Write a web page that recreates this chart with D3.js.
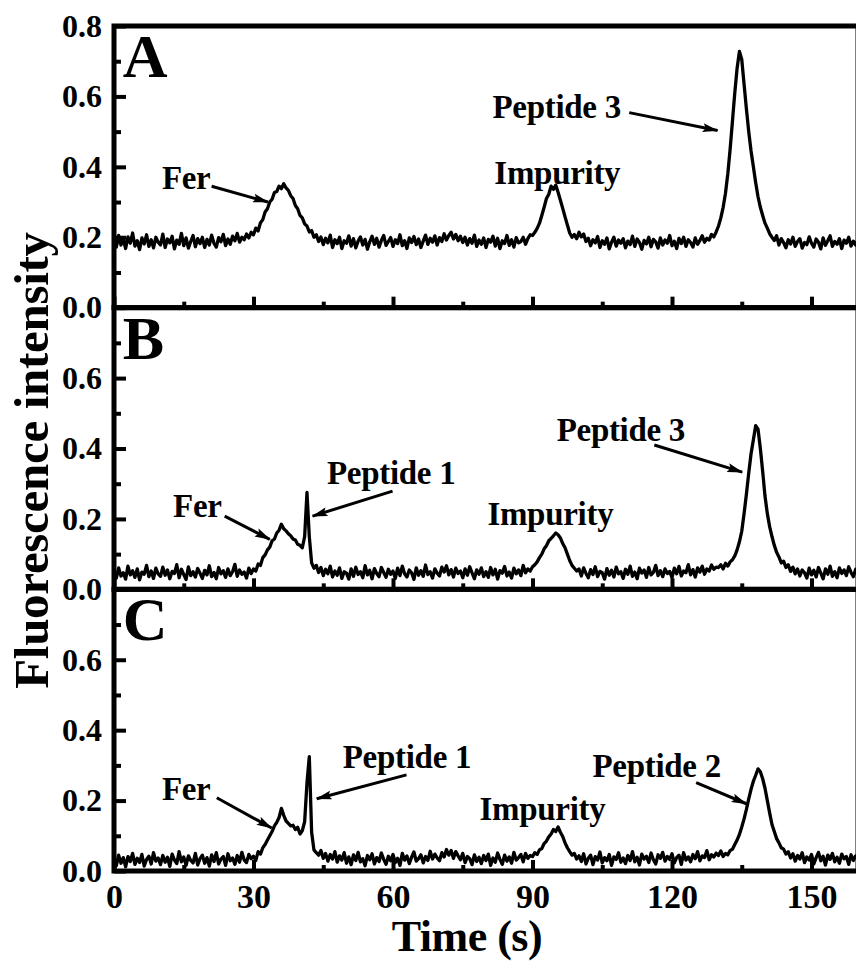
<!DOCTYPE html>
<html>
<head>
<meta charset="utf-8">
<script src="https://cdn.jsdelivr.net/npm/d3@7"></script>
<style>
  body { margin: 0; background: #fff; }
  text { font-family: "Liberation Serif", "Times New Roman", serif; font-weight: bold; fill: #000; }
</style>
</head>
<body>
<div id="chart"></div>
<script>
// Sampling interval of the traces (s)
const sampleStep = 0.5;

// Fluorescence traces, one value every 0.5 s from 0 to 160 s
const traceA = [
  .19,.172,.205,.178,.196,.168,.201,.183,.212,.175,.19,.165,.198,.181,.207,.174,.193,.17,.2,.186,
  .178,.209,.171,.195,.184,.203,.167,.192,.18,.211,.176,.198,.169,.188,.205,.173,.196,.182,.2,.171,
  .194,.178,.206,.183,.172,.199,.187,.208,.176,.195,.18,.203,.19,.211,.186,.2,.193,.209,.198,.214,
  .207,.226,.218,.241,.25,.272,.281,.3,.308,.327,.33,.345,.338,.352,.34,.333,.318,.31,.29,.281,
  .262,.255,.238,.232,.215,.219,.2,.207,.188,.201,.179,.197,.184,.206,.171,.193,.182,.2,.168,.19,
  .183,.204,.175,.196,.17,.189,.201,.178,.194,.166,.187,.203,.18,.197,.172,.191,.205,.177,.188,.199,
  .174,.193,.182,.207,.176,.19,.168,.198,.185,.202,.179,.195,.171,.189,.206,.18,.197,.186,.204,.178,
  .199,.188,.21,.192,.205,.214,.195,.208,.19,.203,.185,.2,.178,.196,.183,.206,.174,.192,.18,.198,
  .171,.194,.186,.203,.175,.197,.168,.19,.182,.205,.177,.193,.172,.199,.184,.188,.2,.18,.196,.207,
  .205,.214,.225,.24,.262,.285,.31,.322,.345,.336,.348,.328,.305,.282,.258,.235,.212,.2,.208,.196,
  .214,.201,.209,.188,.197,.176,.193,.184,.202,.171,.19,.18,.198,.167,.186,.2,.175,.192,.183,.196,
  .17,.189,.179,.203,.174,.195,.185,.166,.191,.181,.2,.173,.194,.187,.169,.198,.178,.192,.183,.205,
  .176,.189,.168,.197,.182,.2,.174,.193,.185,.172,.198,.18,.191,.204,.186,.197,.192,.208,.201,.215,
  .232,.255,.285,.325,.38,.45,.53,.61,.68,.728,.705,.635,.565,.5,.445,.4,.355,.315,.285,.262,
  .24,.226,.21,.2,.191,.204,.178,.196,.185,.17,.193,.181,.2,.174,.188,.196,.169,.185,.179,.201,
  .183,.172,.195,.186,.167,.198,.177,.19,.204,.174,.188,.18,.196,.168,.192,.183,.2,.175,.189,.178,
  .193
];
const traceB = [
  .05,.032,.061,.038,.047,.029,.066,.041,.053,.034,.058,.027,.049,.043,.068,.036,.052,.031,.06,.044,
  .037,.063,.04,.055,.03,.051,.045,.07,.033,.057,.042,.028,.064,.039,.05,.035,.059,.046,.031,.054,
  .041,.067,.036,.048,.03,.062,.044,.053,.034,.058,.039,.05,.071,.037,.055,.043,.049,.032,.06,.045,
  .058,.052,.072,.068,.09,.098,.112,.12,.138,.143,.16,.168,.185,.172,.166,.158,.152,.143,.14,.128,
  .125,.118,.15,.275,.15,.075,.06,.068,.048,.062,.039,.057,.044,.066,.035,.052,.04,.061,.031,.05,
  .046,.029,.058,.037,.063,.042,.05,.033,.067,.041,.054,.03,.059,.045,.036,.062,.048,.034,.057,.043,
  .052,.031,.06,.039,.066,.044,.035,.055,.047,.028,.061,.04,.053,.037,.069,.042,.05,.032,.058,.046,
  .038,.063,.049,.067,.041,.056,.035,.06,.045,.052,.033,.058,.04,.064,.047,.03,.055,.043,.061,.036,
  .05,.034,.062,.041,.057,.029,.053,.046,.065,.038,.049,.032,.06,.044,.055,.039,.068,.047,.058,.052,
  .064,.07,.078,.09,.1,.115,.124,.138,.145,.152,.16,.155,.146,.13,.118,.1,.082,.068,.06,.052,
  .058,.038,.061,.045,.033,.056,.042,.064,.036,.051,.047,.029,.059,.04,.054,.035,.063,.044,.05,.031,
  .057,.043,.066,.037,.049,.03,.06,.046,.055,.034,.062,.041,.048,.068,.039,.053,.036,.058,.045,.051,
  .033,.06,.044,.065,.038,.052,.047,.07,.041,.056,.035,.061,.049,.066,.043,.058,.052,.069,.057,.063,
  .062,.07,.058,.074,.066,.078,.084,.095,.112,.135,.165,.215,.27,.33,.385,.425,.465,.455,.4,.335,
  .265,.215,.178,.15,.125,.105,.092,.075,.08,.062,.07,.051,.063,.044,.058,.038,.055,.047,.032,.06,
  .041,.054,.035,.062,.046,.03,.058,.043,.066,.037,.05,.033,.061,.045,.055,.039,.064,.048,.036,.057,
  .044
];
const traceC = [
  .03,.015,.045,.022,.038,.012,.041,.027,.05,.019,.036,.024,.047,.014,.033,.042,.02,.052,.028,.037,
  .018,.044,.025,.039,.013,.048,.031,.021,.055,.026,.04,.016,.043,.03,.023,.05,.017,.035,.045,.022,
  .038,.014,.046,.027,.052,.02,.034,.041,.016,.049,.029,.037,.019,.044,.025,.053,.031,.024,.047,.035,
  .042,.03,.055,.048,.066,.075,.088,.1,.112,.128,.138,.152,.178,.158,.142,.135,.128,.13,.118,.124,
  .105,.115,.14,.25,.325,.11,.06,.052,.045,.058,.036,.05,.028,.047,.034,.055,.025,.043,.031,.052,
  .022,.04,.018,.046,.03,.053,.026,.035,.015,.044,.032,.049,.02,.038,.027,.051,.033,.019,.042,.029,
  .047,.024,.036,.016,.05,.031,.043,.021,.039,.054,.028,.035,.046,.023,.041,.03,.056,.034,.048,.037,
  .029,.052,.04,.061,.045,.058,.036,.055,.043,.032,.05,.024,.041,.035,.018,.046,.027,.039,.021,.044,
  .03,.048,.016,.037,.025,.051,.033,.019,.045,.028,.04,.022,.053,.031,.038,.047,.026,.05,.036,.044,
  .041,.052,.047,.06,.064,.078,.085,.097,.105,.118,.112,.125,.11,.098,.08,.066,.055,.045,.05,.034,
  .043,.027,.049,.02,.036,.045,.018,.041,.031,.054,.023,.038,.029,.047,.016,.04,.033,.052,.025,.037,
  .021,.044,.03,.055,.026,.039,.017,.048,.034,.042,.024,.051,.032,.02,.046,.036,.053,.028,.041,.033,
  .049,.023,.038,.045,.019,.052,.031,.04,.026,.047,.035,.055,.029,.043,.038,.058,.032,.046,.04,.051,
  .044,.057,.041,.05,.046,.058,.062,.075,.088,.104,.125,.148,.175,.205,.232,.255,.272,.29,.282,.262,
  .235,.2,.165,.132,.112,.092,.08,.066,.062,.048,.055,.037,.049,.028,.044,.034,.052,.024,.04,.031,
  .047,.02,.038,.053,.029,.042,.017,.045,.033,.05,.026,.039,.022,.048,.035,.041,.019,.046,.03,.043,
  .036
];

const panelNames = ["A", "B", "C"];
const xTicks = [0, 30, 60, 90, 120, 150];
const xMinorTicks = [15, 45, 75, 105, 135];
const yTicks = [0, 0.2, 0.4, 0.6, 0.8];
const yMinorTicks = [0.1, 0.3, 0.5, 0.7];

// Peak labels: text anchor and arrow (tail -> tip) in data units
const annotations = [
  {panel: 0, label: "Fer",       t: 10.3, v: 0.336, arrow: [21.0, 0.345, 33.1, 0.300]},
  {panel: 0, label: "Impurity",  t: 81.8, v: 0.350},
  {panel: 0, label: "Peptide 3", t: 81.4, v: 0.540, arrow: [110.8, 0.554, 129.8, 0.503]},
  {panel: 1, label: "Fer",       t: 12.7, v: 0.205, arrow: [23.8, 0.208, 33.5, 0.142]},
  {panel: 1, label: "Peptide 1", t: 45.8, v: 0.299, arrow: [59.9, 0.279, 42.7, 0.208]},
  {panel: 1, label: "Impurity",  t: 80.3, v: 0.182},
  {panel: 1, label: "Peptide 3", t: 95.2, v: 0.421, arrow: [116.2, 0.410, 135.1, 0.333]},
  {panel: 2, label: "Fer",       t: 10.3, v: 0.202, arrow: [22.1, 0.208, 33.9, 0.122]},
  {panel: 2, label: "Peptide 1", t: 49.2, v: 0.293, arrow: [62.9, 0.273, 43.6, 0.205]},
  {panel: 2, label: "Impurity",  t: 78.6, v: 0.145},
  {panel: 2, label: "Peptide 2", t: 102.9, v: 0.268, arrow: [125.2, 0.251, 136.0, 0.191]}
];

const traces = [traceA, traceB, traceC];

// Layout
const width = 856, height = 964;
const plot = {left: 114, right: 858, top: 26, bottom: 871};
const panelH = (plot.bottom - plot.top) / 3;

const svg = d3.select("#chart").append("svg")
    .attr("width", width)
    .attr("height", height);

svg.append("defs").append("marker")
    .attr("id", "head")
    .attr("markerUnits", "userSpaceOnUse")
    .attr("markerWidth", 16).attr("markerHeight", 9)
    .attr("refX", 15).attr("refY", 4.5)
    .attr("orient", "auto")
  .append("path")
    .attr("d", "M0,0 L16,4.5 L0,9 L3,4.5 Z")
    .attr("fill", "#000");

const x = d3.scaleLinear().domain([0, 160]).range([plot.left, plot.right]);

traces.forEach((trace, i) => {
  const top = plot.top + i * panelH, bottom = top + panelH;
  const y = d3.scaleLinear().domain([0, 0.8]).range([bottom, top]);
  const g = svg.append("g");

  // trace
  const line = d3.line()
      .x((d, k) => x(k * sampleStep))
      .y(d => y(d));
  g.append("path")
      .datum(trace)
      .attr("d", line)
      .attr("fill", "none")
      .attr("stroke", "#000")
      .attr("stroke-width", 3.3)
      .attr("stroke-linejoin", "round");

  // left axis, ticks pointing inward
  const labelTicks = i === 0 ? yTicks : yTicks.slice(0, 4);
  const yAxis = g.append("g")
      .attr("transform", `translate(${plot.left},0)`)
      .call(d3.axisLeft(y).tickValues(labelTicks).tickSize(-12).tickPadding(12)
        .tickFormat(d3.format(".1f")));
  yAxis.select(".domain").remove();
  yAxis.selectAll("line").attr("stroke-width", 4);
  yAxis.selectAll("text").attr("font-size", 32);

  const yMinor = g.append("g")
      .attr("transform", `translate(${plot.left},0)`)
      .call(d3.axisLeft(y).tickValues(yMinorTicks).tickSize(-7).tickFormat(""));
  yMinor.select(".domain").remove();
  yMinor.selectAll("line").attr("stroke-width", 4);

  // bottom axis, ticks pointing up
  const xAxis = g.append("g")
      .attr("transform", `translate(0,${bottom})`)
      .call(d3.axisBottom(x).tickValues(xTicks).tickSize(-11).tickPadding(13)
        .tickFormat(i === 2 ? d3.format("d") : ""));
  xAxis.select(".domain").remove();
  xAxis.selectAll("line").attr("stroke-width", 4);
  xAxis.selectAll("text").attr("font-size", 34);

  const xMinor = g.append("g")
      .attr("transform", `translate(0,${bottom})`)
      .call(d3.axisBottom(x).tickValues(xMinorTicks).tickSize(-6).tickFormat(""));
  xMinor.select(".domain").remove();
  xMinor.selectAll("line").attr("stroke-width", 4);

  // frame
  g.append("rect")
      .attr("x", plot.left).attr("y", top)
      .attr("width", plot.right - plot.left).attr("height", panelH)
      .attr("fill", "none")
      .attr("stroke", "#000")
      .attr("stroke-width", 5);

  // panel letter
  g.append("text")
      .attr("x", x(1.9))
      .attr("y", y(0.655))
      .attr("font-size", 62)
      .text(panelNames[i]);

  // peak labels
  annotations.filter(a => a.panel === i).forEach(a => {
    g.append("text")
        .attr("x", x(a.t))
        .attr("y", y(a.v))
        .attr("font-size", 33)
        .attr("letter-spacing", -0.3)
        .text(a.label);
    if (a.arrow) {
      g.append("line")
          .attr("x1", x(a.arrow[0])).attr("y1", y(a.arrow[1]))
          .attr("x2", x(a.arrow[2])).attr("y2", y(a.arrow[3]))
          .attr("stroke", "#000")
          .attr("stroke-width", 3)
          .attr("marker-end", "url(#head)");
    }
  });
});

// axis titles
svg.append("text")
    .attr("x", x(75.9))
    .attr("y", 951)
    .attr("text-anchor", "middle")
    .attr("font-size", 44)
    .attr("letter-spacing", -0.5)
    .text("Time (s)");

svg.append("text")
    .attr("transform", `translate(48,${(plot.top + plot.bottom) / 2 + 12}) rotate(-90)`)
    .attr("text-anchor", "middle")
    .attr("font-size", 49)
    .attr("letter-spacing", -0.3)
    .text("Fluorescence intensity");
</script>
</body>
</html>
